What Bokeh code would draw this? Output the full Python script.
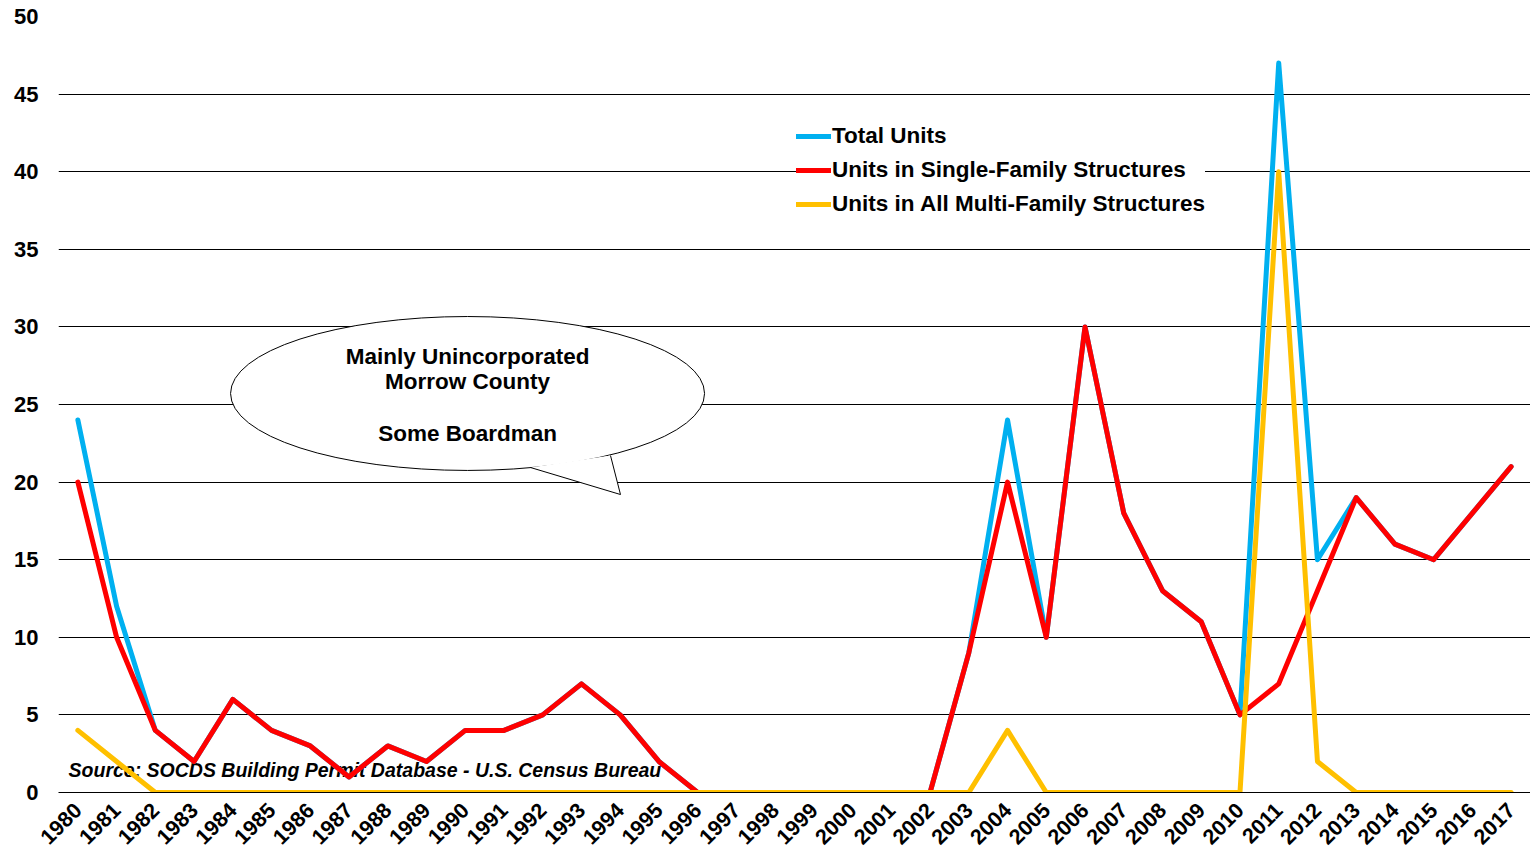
from bokeh.plotting import figure
from bokeh.models import Range1d, FixedTicker, Legend, LegendItem
from bokeh.core.properties import value
from bokeh.embed import file_html
from bokeh.resources import INLINE

years = list(range(1980, 2018))
total_units = [24, 12, 4, 2, 6, 4, 3, 1, 3, 2, 4, 4, 5, 7, 5, 2, 0, 0, 0, 0, 0, 0, 0,
               9, 24, 10, 30, 18, 13, 11, 5, 47, 15, 19, 16, 15, 18, 21]
single_family = [20, 10, 4, 2, 6, 4, 3, 1, 3, 2, 4, 4, 5, 7, 5, 2, 0, 0, 0, 0, 0, 0, 0,
                 9, 20, 10, 30, 18, 13, 11, 5, 7, 13, 19, 16, 15, 18, 21]
multi_family = [4, 2, 0, 0, 0, 0, 0, 0, 0, 0, 0, 0, 0, 0, 0, 0, 0, 0, 0, 0, 0, 0, 0,
                0, 4, 0, 0, 0, 0, 0, 0, 40, 2, 0, 0, 0, 0, 0]
y_ticks = [0, 5, 10, 15, 20, 25, 30, 35, 40, 45, 50]

FONT = "Liberation Sans"

p = figure(width=1530, height=857, output_backend="svg", toolbar_location=None,
           x_range=Range1d(1979.5, 2017.5), y_range=Range1d(0, 50),
           min_border_left=58, min_border_right=0, min_border_top=16, min_border_bottom=65)
p.outline_line_color = None
p.background_fill_color = "white"
p.border_fill_color = "white"

p.xgrid.grid_line_color = None
p.ygrid.grid_line_color = "black"
p.ygrid.grid_line_width = 1
p.ygrid.ticker = FixedTicker(ticks=y_ticks)

p.yaxis.ticker = FixedTicker(ticks=y_ticks)
p.yaxis.axis_line_color = None
p.yaxis.major_tick_line_color = None
p.yaxis.minor_tick_line_color = None
p.yaxis.major_label_text_font = FONT
p.yaxis.major_label_text_font_style = "bold"
p.yaxis.major_label_text_font_size = "22px"
p.yaxis.major_label_text_color = "black"
p.yaxis.major_label_standoff = 20
p.yaxis.major_tick_out = 0

p.xaxis.ticker = FixedTicker(ticks=years)
p.xaxis.axis_line_color = "black"
p.xaxis.major_tick_line_color = None
p.xaxis.minor_tick_line_color = None
p.xaxis.major_tick_out = 0
p.xaxis.major_label_orientation = 0.785398
p.xaxis.major_label_text_font = FONT
p.xaxis.major_label_text_font_style = "bold"
p.xaxis.major_label_text_font_size = "21.5px"
p.xaxis.major_label_text_color = "black"
p.xaxis.major_label_standoff = 14

# source note
p.text(x=[1979.76], y=[1.42], text=["Source: SOCDS Building  Permit Database - U.S. Census Bureau"],
       text_font=value(FONT), text_font_style="bold italic", text_font_size="19.5px",
       text_align="left", text_baseline="middle", text_color="black")

# callout bubble
p.ellipse(x=[1990.06], y=[25.71], width=[474], height=[154], width_units="screen", height_units="screen",
          fill_color="white", line_color="black", line_width=1)
tail_x = [1991.685, 1994.008, 1993.75]
tail_y = [20.94, 19.20, 21.71]
p.patch(x=tail_x, y=tail_y, fill_color="white", line_color=None)
p.line(x=tail_x, y=tail_y, line_color="black", line_width=1)
p.text(x=[1990.06, 1990.06, 1990.06], y=[28.09, 26.48, 23.13],
       text=["Mainly Unincorporated", "Morrow County", "Some Boardman"],
       text_font=value(FONT), text_font_style="bold", text_font_size="22.5px",
       text_align="center", text_baseline="middle", text_color="black")

r_total = p.line(years, total_units, line_color="#00B0F0", line_width=5, line_join="round", line_cap="round")
r_single = p.line(years, single_family, line_color="#FF0000", line_width=5, line_join="round", line_cap="round")
r_multi = p.line(years, multi_family, line_color="#FFC000", line_width=5, line_join="round", line_cap="round")

legend = Legend(items=[LegendItem(label="Total Units", renderers=[r_total]),
                       LegendItem(label="Units in Single-Family Structures", renderers=[r_single]),
                       LegendItem(label="Units in All Multi-Family Structures", renderers=[r_multi])],
                location=(728, 573), orientation="vertical",
                label_text_font=FONT, label_text_font_style="bold", label_text_font_size="22.5px",
                label_text_color="black",
                glyph_width=35, glyph_height=30, label_height=30, label_standoff=1,
                spacing=4, padding=10, margin=0,
                border_line_color=None, background_fill_color="white", background_fill_alpha=1.0)
legend.padding = 10
p.add_layout(legend)
legend.location = (738, 573)

open("out.html", "w").write(file_html(p, INLINE))
